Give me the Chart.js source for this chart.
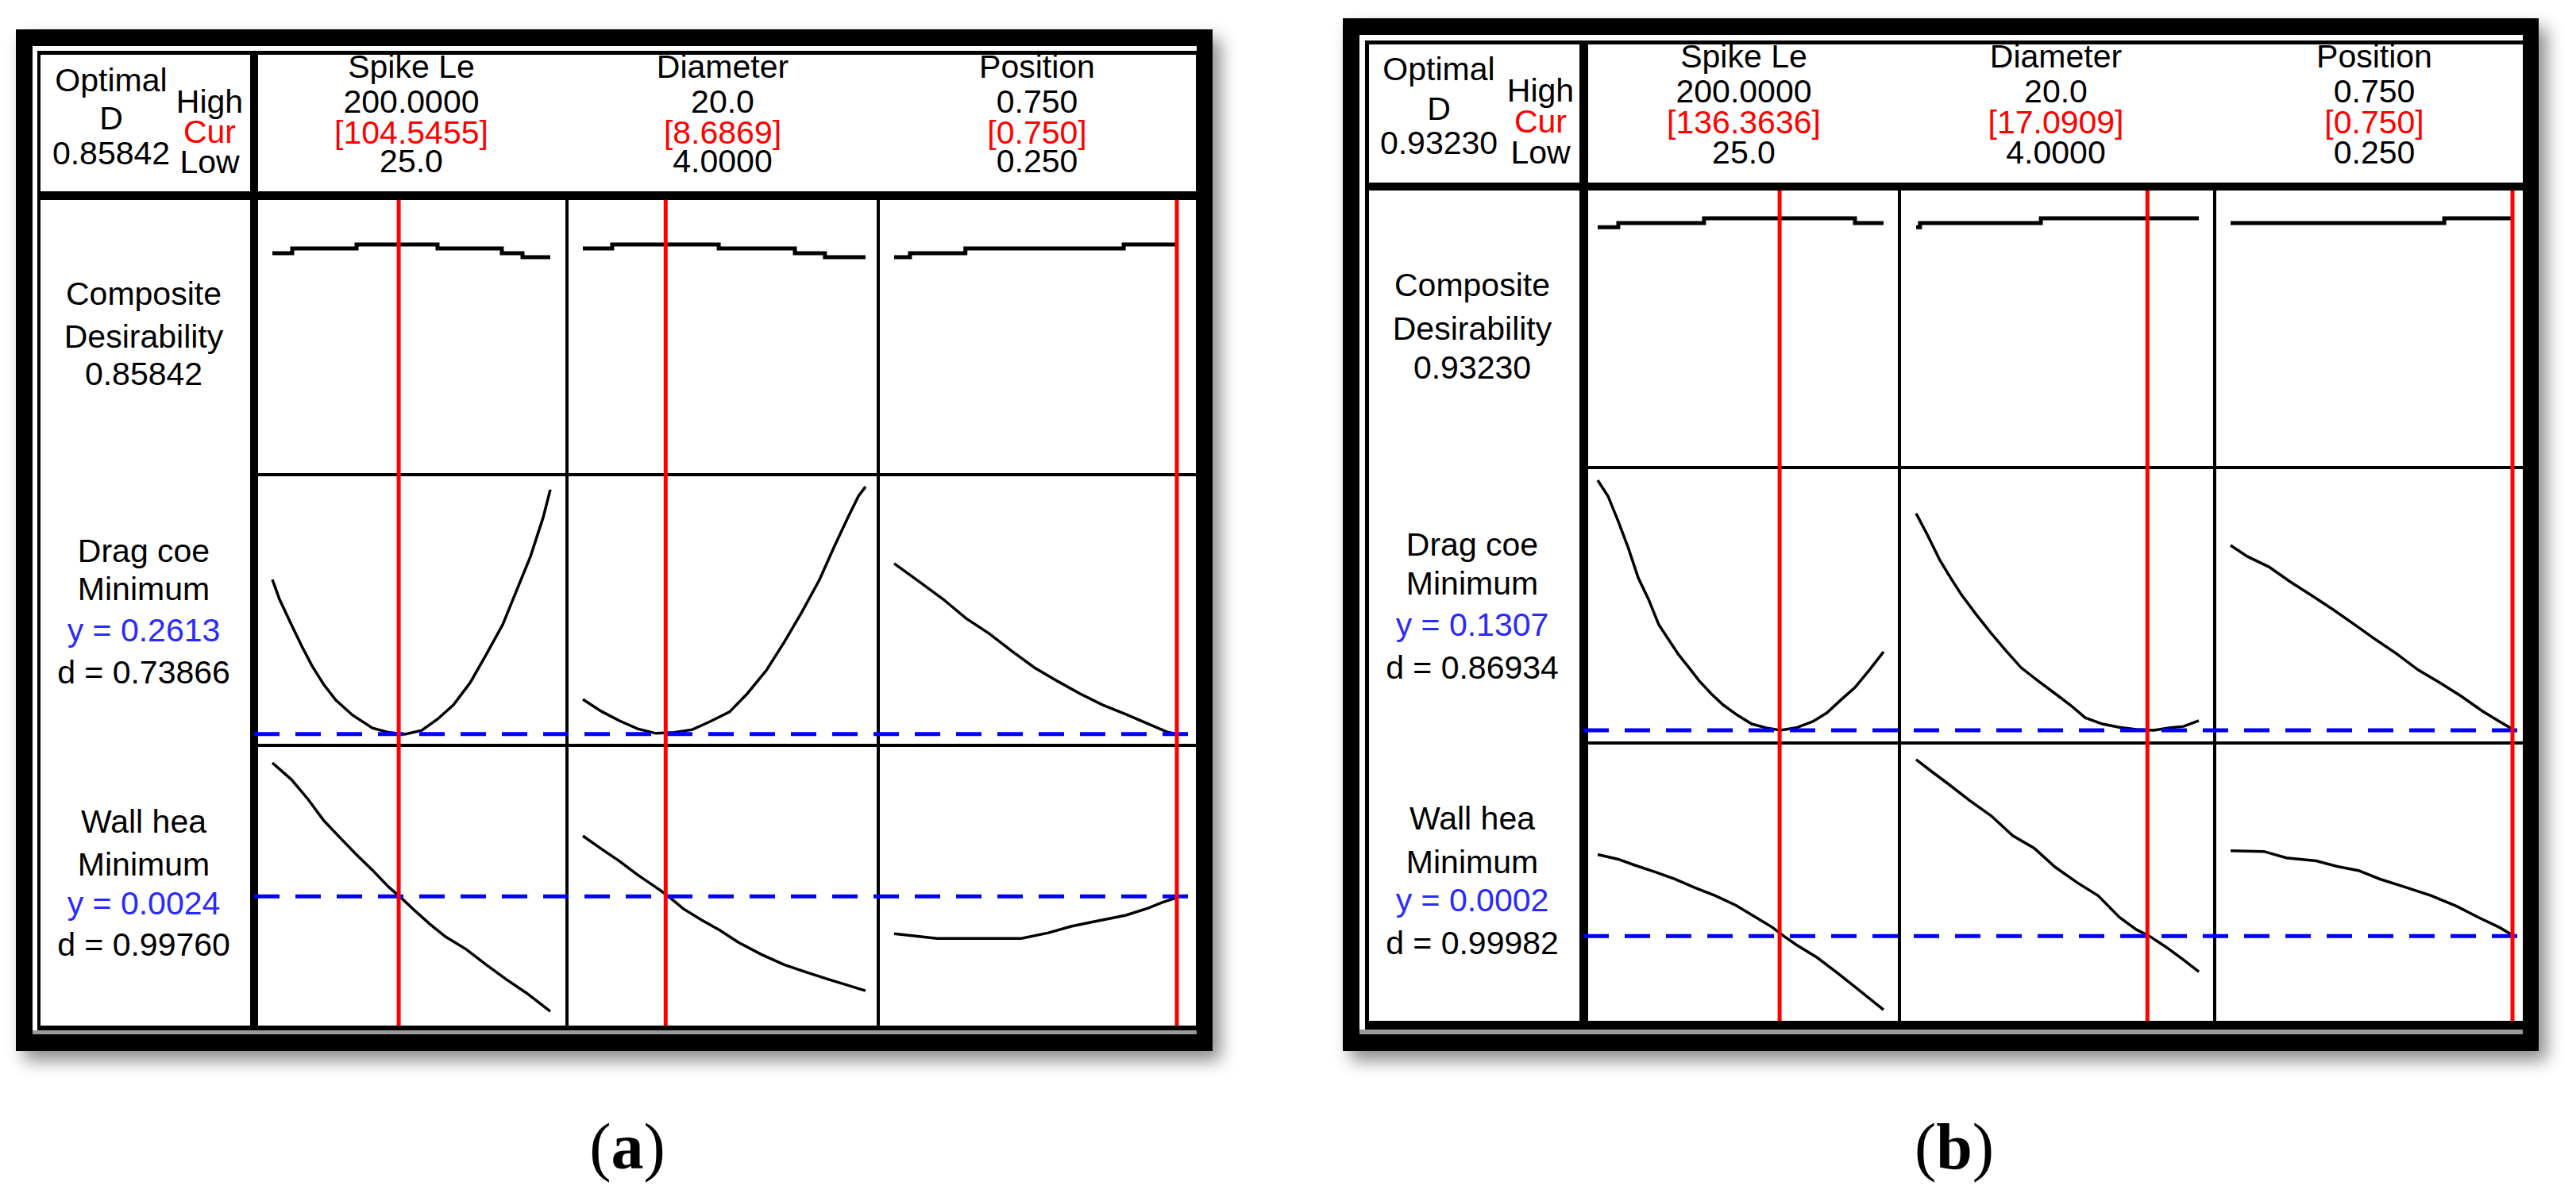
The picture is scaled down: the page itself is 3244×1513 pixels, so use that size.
<!DOCTYPE html>
<html><head><meta charset="utf-8">
<script src="https://cdn.jsdelivr.net/npm/chart.js@4.4.1/dist/chart.umd.min.js"></script>
<style>
html,body{margin:0;padding:0;background:#fff;}
#page{position:relative;width:3244px;height:1513px;overflow:hidden;background:#fff;font-family:"Liberation Sans",Arial,sans-serif;}
.r{position:absolute;}
.t{position:absolute;font-size:41px;line-height:41px;white-space:nowrap;transform:translate(-50%,-50%);color:#000;}
.lab{position:absolute;font-family:"Liberation Serif","Times New Roman",serif;font-size:82px;line-height:82px;white-space:nowrap;transform:translateX(-50%);color:#000;}
canvas{position:absolute;}
</style></head><body><div id="page"></div>
<script>
// ---------------- DATA ----------------
const factorNames = ['Spike Le', 'Diameter', 'Position'];
const highLabels = ['200.0000', '20.0', '0.750'];
const lowLabels = ['25.0', '4.0000', '0.250'];
const factorLow = [25, 4, 0.25];
const factorHigh = [200, 20, 0.75];
const responseNames = ['Drag coe', 'Wall hea'];
const goalLabels = ['Minimum', 'Minimum'];
const panelLabels = ['a', 'b'];

// panel (a) settings
const curA = [104.5455, 8.6869, 0.750];
const curALabels = ['[104.5455]', '[8.6869]', '[0.750]'];
const optimalA = '0.85842';
const aRespY = ['y = 0.2613', 'y = 0.0024'];
const aRespD = ['d = 0.73866', 'd = 0.99760'];
const aTargets = [0.036, 0.464];   // predicted response levels (scaled plot units): drag, wall

// panel (b) settings
const curB = [136.3636, 17.0909, 0.750];
const curBLabels = ['[136.3636]', '[17.0909]', '[0.750]'];
const optimalB = '0.93230';
const bRespY = ['y = 0.1307', 'y = 0.0002'];
const bRespD = ['d = 0.86934', 'd = 0.99982'];
const bTargets = [0.041, 0.307];

// ---- panel (a) curves (y in scaled plot units 0..1) ----
const aCompSpikeX = [25, 37.5, 78, 129, 169.5, 182.5, 200];
const aCompSpikeY = [0.805, 0.823, 0.837, 0.823, 0.805, 0.791, 0.791];
const aCompDiamX = [4, 5.66, 11.69, 16.0, 17.7, 20];
const aCompDiamY = [0.823, 0.837, 0.823, 0.805, 0.791, 0.791];
const aCompPosX = [0.25, 0.278, 0.376, 0.656, 0.75];
const aCompPosY = [0.791, 0.805, 0.823, 0.837, 0.837];

const aDragSpikeX = [25, 29.5, 37, 43.5, 50, 57.5, 65, 75.5, 88, 98.5, 108.5, 119, 129, 139, 149.5, 159.5, 170, 180, 187.5, 195.5, 200];
const aDragSpikeY = [0.614, 0.540, 0.445, 0.365, 0.291, 0.220, 0.163, 0.107, 0.059, 0.042, 0.036, 0.050, 0.092, 0.145, 0.228, 0.332, 0.445, 0.591, 0.700, 0.846, 0.950];
const aDragDiamX = [4.0, 5.03, 6.07, 7.1, 8.13, 9.17, 10.2, 11.2, 12.3, 13.3, 14.4, 15.4, 16.4, 17.4, 18.2, 19.0, 19.6, 20.0];
const aDragDiamY = [0.166, 0.122, 0.086, 0.056, 0.039, 0.042, 0.053, 0.083, 0.119, 0.187, 0.276, 0.380, 0.493, 0.614, 0.733, 0.846, 0.926, 0.961];
const aDragPosX = [0.25, 0.297, 0.337, 0.377, 0.418, 0.458, 0.498, 0.539, 0.579, 0.619, 0.660, 0.700, 0.732, 0.75];
const aDragPosY = [0.674, 0.602, 0.540, 0.469, 0.412, 0.347, 0.285, 0.234, 0.187, 0.145, 0.110, 0.074, 0.045, 0.036];

const aWallSpikeX = [25, 37, 47.5, 57.5, 68, 78, 88, 98.5, 106, 113.5, 124, 134, 147, 159.5, 172.5, 185, 200];
const aWallSpikeY = [0.943, 0.883, 0.812, 0.735, 0.672, 0.613, 0.558, 0.496, 0.459, 0.419, 0.365, 0.319, 0.274, 0.219, 0.165, 0.117, 0.051];
const aWallDiamX = [4.0, 5.03, 6.07, 7.1, 8.14, 8.66, 9.69, 10.72, 11.76, 12.79, 14.08, 15.37, 16.66, 17.95, 18.98, 20.0];
const aWallDiamY = [0.681, 0.635, 0.590, 0.541, 0.496, 0.473, 0.419, 0.379, 0.342, 0.299, 0.256, 0.219, 0.191, 0.165, 0.145, 0.125];
const aWallPosX = [0.25, 0.326, 0.403, 0.475, 0.523, 0.563, 0.604, 0.660, 0.700, 0.724, 0.75];
const aWallPosY = [0.330, 0.313, 0.313, 0.313, 0.333, 0.356, 0.373, 0.396, 0.422, 0.442, 0.459];

// ---- panel (b) curves ----
const bCompSpikeX = [25, 37.6, 90.1, 182.5, 200];
const bCompSpikeY = [0.867, 0.882, 0.899, 0.882, 0.882];
const bCompDiamX = [4, 4.22, 11.06, 20];
const bCompDiamY = [0.867, 0.882, 0.899, 0.899];
const bCompPosX = [0.25, 0.629, 0.75];
const bCompPosY = [0.882, 0.899, 0.899];

const bDragSpikeX = [25, 31.3, 37.6, 43.7, 49.8, 56.1, 62.4, 68.5, 74.6, 80.9, 87.2, 94.5, 101.8, 110.6, 119.3, 128.1, 136.8, 146.6, 156.7, 165.3, 173.8, 182.5, 191.3, 200];
const bDragSpikeY = [0.959, 0.901, 0.808, 0.711, 0.601, 0.522, 0.429, 0.373, 0.318, 0.271, 0.222, 0.175, 0.134, 0.096, 0.064, 0.050, 0.041, 0.050, 0.073, 0.105, 0.152, 0.198, 0.262, 0.329];
const bDragDiamX = [4.0, 4.62, 5.35, 5.95, 6.56, 7.4, 8.25, 9.1, 9.94, 10.91, 11.88, 12.72, 13.57, 14.54, 15.5, 16.47, 17.44, 18.4, 19.13, 20.0];
const bDragDiamY = [0.837, 0.761, 0.665, 0.601, 0.539, 0.466, 0.397, 0.332, 0.271, 0.222, 0.175, 0.134, 0.087, 0.064, 0.052, 0.044, 0.041, 0.050, 0.055, 0.076];
const bDragPosX = [0.25, 0.280, 0.318, 0.356, 0.394, 0.432, 0.470, 0.508, 0.545, 0.583, 0.621, 0.659, 0.697, 0.727, 0.75];
const bDragPosY = [0.720, 0.679, 0.641, 0.586, 0.536, 0.484, 0.429, 0.373, 0.321, 0.262, 0.216, 0.166, 0.111, 0.073, 0.045];

const bWallSpikeX = [25, 37.6, 47.4, 60.0, 72.2, 84.9, 97.0, 109.6, 121.7, 132.0, 138.8, 146.6, 159.3, 171.4, 184.1, 200];
const bWallSpikeY = [0.602, 0.585, 0.564, 0.539, 0.513, 0.481, 0.453, 0.418, 0.375, 0.338, 0.307, 0.275, 0.229, 0.175, 0.115, 0.040];
const bWallDiamX = [4.0, 4.87, 5.83, 7.04, 8.25, 9.47, 10.68, 11.88, 13.1, 14.3, 15.5, 16.47, 17.2, 18.17, 19.13, 20.0];
const bWallDiamY = [0.946, 0.903, 0.857, 0.797, 0.742, 0.670, 0.625, 0.556, 0.501, 0.453, 0.375, 0.330, 0.307, 0.266, 0.221, 0.178];
const bWallPosX = [0.25, 0.309, 0.349, 0.402, 0.439, 0.477, 0.515, 0.560, 0.606, 0.651, 0.689, 0.727, 0.75];
const bWallPosY = [0.616, 0.613, 0.590, 0.579, 0.559, 0.544, 0.513, 0.484, 0.453, 0.415, 0.375, 0.338, 0.310];

// ---------------- LAYOUT ----------------
const page = document.getElementById('page');
function rect(b, color, extra) {
  const d = document.createElement('div');
  d.className = 'r';
  d.style.left = b[0] + 'px'; d.style.top = b[1] + 'px';
  d.style.width = (b[2] - b[0]) + 'px'; d.style.height = (b[3] - b[1]) + 'px';
  d.style.background = color;
  if (extra) Object.assign(d.style, extra);
  page.appendChild(d);
  return d;
}
function text(x, y, s, color) {
  const d = document.createElement('div');
  d.className = 't';
  d.style.left = x + 'px'; d.style.top = y + 'px';
  if (color) d.style.color = color;
  d.textContent = s;
  page.appendChild(d);
}
const zip = (xs, ys) => xs.map((x, i) => ({x: x, y: ys[i]}));

function cellChart(cell, ext, low, high, mL, mR, cur, curve, composite, target, blueStart) {
  const [L, T, R, B] = cell; const [eL, eT, eR, eB] = ext;
  const cw = R - L + eL + eR, ch = B - T + eT + eB;
  const cv = document.createElement('canvas');
  cv.width = cw; cv.height = ch;
  cv.style.left = (L - eL) + 'px'; cv.style.top = (T - eT) + 'px';
  cv.style.width = cw + 'px'; cv.style.height = ch + 'px';
  page.appendChild(cv);
  const ppu = (R - L - mL - mR) / (high - low);
  const xmin = low - (mL + eL) / ppu, xmax = high + (mR + eR) / ppu;
  const ppv = B - T;
  const ymin = -eB / ppv, ymax = 1 + eT / ppv;
  const sets = [];
  sets.push({data: [{x: cur, y: ymin}, {x: cur, y: ymax}], borderColor: '#ff0000', borderWidth: 5, borderCapStyle: 'butt'});
  if (target !== null) {
    sets.push({data: [{x: xmin, y: target}, {x: xmax, y: target}], borderColor: '#0000ff', borderWidth: 5,
      borderDash: [32, 20], borderDashOffset: (L - eL) - blueStart, borderCapStyle: 'butt'});
  }
  sets.push({data: curve, borderColor: '#000', borderWidth: composite ? 5 : 3.5, stepped: composite ? true : false,
    borderCapStyle: 'butt', borderJoinStyle: 'miter'});
  new Chart(cv, {
    type: 'line',
    data: {datasets: sets.map(s => Object.assign({pointRadius: 0, fill: false, tension: 0, clip: false}, s))},
    options: {
      responsive: false, animation: false, devicePixelRatio: 1, events: [],
      layout: {padding: 0},
      plugins: {legend: {display: false}, tooltip: {enabled: false}, title: {display: false}},
      scales: {
        x: {type: 'linear', display: false, min: xmin, max: xmax},
        y: {type: 'linear', display: false, min: ymin, max: ymax}
      }
    }
  });
}

function buildPanel(G, D) {
  rect(G.outer, '#000', {boxShadow: '10px 12px 20px rgba(0,0,0,0.45)'});
  rect(G.white, '#fff');
  rect(G.gray, '#9a9a9a');
  rect(G.inner, '#000');
  rect(G.hdrLeft, '#fff');
  rect(G.hdrRight, '#fff');
  rect(G.leftCol, '#fff');
  for (let r = 0; r < 3; r++) for (let c = 0; c < 3; c++)
    rect([G.cols[c][0], G.rows[r][0], G.cols[c][1], G.rows[r][1]], '#fff');

  // header texts
  text(G.optX, G.optY[0], 'Optimal');
  text(G.optX, G.optY[1], 'D');
  text(G.optX, G.optY[2], D.optimal);
  text(G.hclX, G.hclY[0], 'High');
  text(G.hclX, G.hclY[1], 'Cur', '#ff0000');
  text(G.hclX, G.hclY[2], 'Low');
  for (let c = 0; c < 3; c++) {
    text(G.hdrX[c], G.hdrY[0], factorNames[c]);
    text(G.hdrX[c], G.hdrY[1], highLabels[c]);
    text(G.hdrX[c], G.hdrY[2], D.curLabels[c], '#ff0000');
    text(G.hdrX[c], G.hdrY[3], lowLabels[c]);
  }
  text(G.leftX, G.compY[0], 'Composite');
  text(G.leftX, G.compY[1], 'Desirability');
  text(G.leftX, G.compY[2], D.optimal);
  for (let k = 0; k < 2; k++) {
    const ys = k === 0 ? G.dragY : G.wallY;
    text(G.leftX, ys[0], responseNames[k]);
    text(G.leftX, ys[1], goalLabels[k]);
    text(G.leftX, ys[2], D.respY[k], '#2a2aff');
    text(G.leftX, ys[3], D.respD[k]);
  }
  // cells
  for (let r = 0; r < 3; r++) for (let c = 0; c < 3; c++) {
    const cell = [G.cols[c][0], G.rows[r][0], G.cols[c][1], G.rows[r][1]];
    const ext = [c === 0 ? G.cols[0][0] - G.blueStart : 2, r === 0 ? 0 : 2, c === 2 ? 0 : 2, r === 2 ? 0 : 2];
    cellChart(cell, ext, factorLow[c], factorHigh[c], G.margins[c][0], G.margins[c][1], D.cur[c],
      D.curves[r][c], r === 0, r === 0 ? null : D.targets[r - 1], G.blueStart);
  }
  const lab = document.createElement('div');
  lab.className = 'lab';
  lab.style.left = G.labX + 'px'; lab.style.top = G.labTop + 'px';
  lab.innerHTML = '(<b>' + D.label + '</b>)';
  page.appendChild(lab);
}

const geomA = {
  outer: [20, 37, 1527, 1324], white: [41, 58, 1507, 1303], gray: [41, 1298, 1507, 1303], inner: [47, 64, 1507, 1298],
  hdrLeft: [51, 69, 315, 241], hdrRight: [325, 69, 1506, 241], leftCol: [51, 252, 315, 1292],
  cols: [[325, 712], [716, 1104], [1108, 1506]], rows: [[252, 596], [600, 937], [941, 1292]],
  margins: [[18, 19], [18, 14], [18, 24]], blueStart: 320,
  optX: 140, optY: [101, 149, 193], hclX: 264, hclY: [128, 166, 204],
  hdrX: [518, 910, 1306], hdrY: [84, 128, 167, 203],
  leftX: 181, compY: [370, 424, 471], dragY: [694, 742, 794, 847], wallY: [1035, 1089, 1138, 1190],
  labX: 790, labTop: 1404
};
const geomB = {
  outer: [1691, 23, 3197, 1324], white: [1712, 44, 3177, 1303], gray: [1712, 1297, 3177, 1303], inner: [1719, 51, 3177, 1297],
  hdrLeft: [1724, 56, 1989, 230], hdrRight: [2000, 56, 3177, 230], leftCol: [1724, 240, 1989, 1286],
  cols: [[2000, 2390], [2394, 2787], [2791, 3177]], rows: [[240, 587], [591, 934], [938, 1286]],
  margins: [[12, 18], [19, 18], [18, 13]], blueStart: 1994,
  optX: 1812, optY: [87, 137, 180], hclX: 1940, hclY: [114, 153, 192],
  hdrX: [2196, 2589, 2990], hdrY: [71, 115, 154, 192],
  leftX: 1854, compY: [359, 414, 463], dragY: [686, 735, 787, 841], wallY: [1031, 1086, 1134, 1188],
  labX: 2461, labTop: 1404
};

buildPanel(geomA, {
  optimal: optimalA, curLabels: curALabels, cur: curA, respY: aRespY, respD: aRespD, targets: aTargets, label: panelLabels[0],
  curves: [
    [zip(aCompSpikeX, aCompSpikeY), zip(aCompDiamX, aCompDiamY), zip(aCompPosX, aCompPosY)],
    [zip(aDragSpikeX, aDragSpikeY), zip(aDragDiamX, aDragDiamY), zip(aDragPosX, aDragPosY)],
    [zip(aWallSpikeX, aWallSpikeY), zip(aWallDiamX, aWallDiamY), zip(aWallPosX, aWallPosY)]
  ]
});
buildPanel(geomB, {
  optimal: optimalB, curLabels: curBLabels, cur: curB, respY: bRespY, respD: bRespD, targets: bTargets, label: panelLabels[1],
  curves: [
    [zip(bCompSpikeX, bCompSpikeY), zip(bCompDiamX, bCompDiamY), zip(bCompPosX, bCompPosY)],
    [zip(bDragSpikeX, bDragSpikeY), zip(bDragDiamX, bDragDiamY), zip(bDragPosX, bDragPosY)],
    [zip(bWallSpikeX, bWallSpikeY), zip(bWallDiamX, bWallDiamY), zip(bWallPosX, bWallPosY)]
  ]
});
</script>
</body></html>
